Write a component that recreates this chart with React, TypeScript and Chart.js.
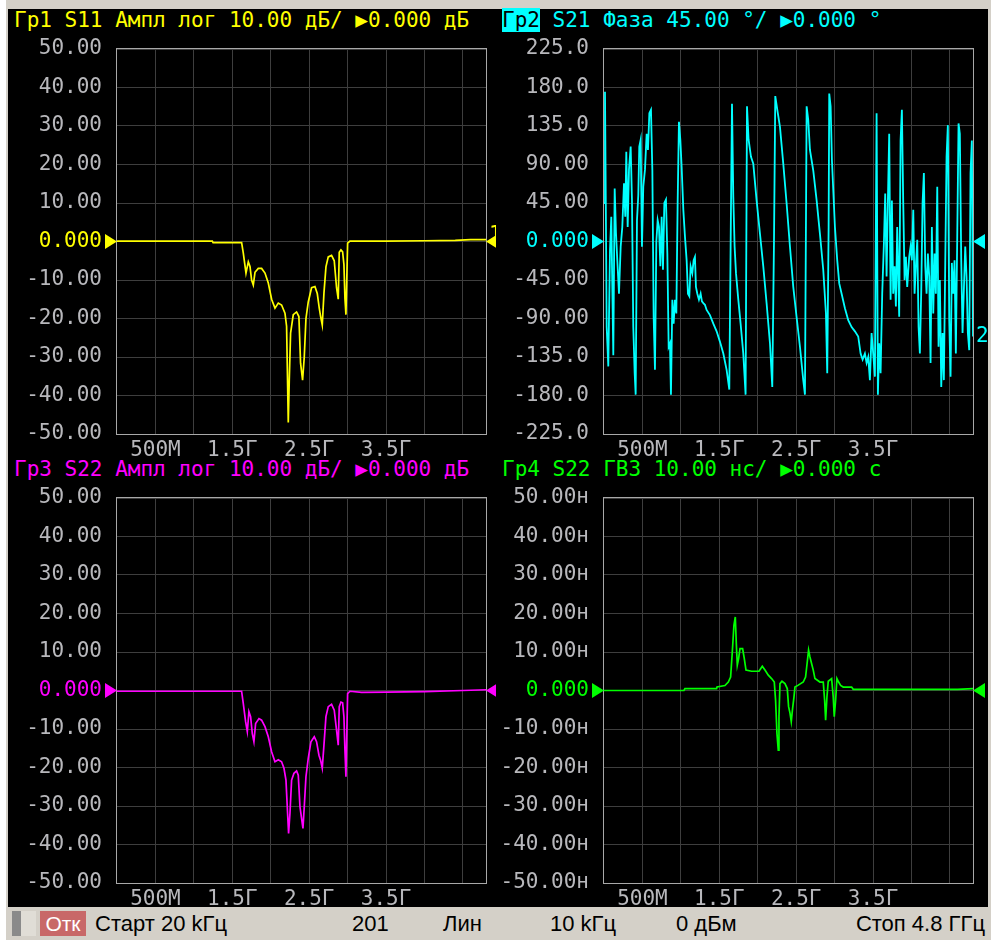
import React, { useEffect, useRef } from 'react';
import { Chart, registerables } from 'chart.js';
Chart.register(...registerables);

const MONO = '"DejaVu Sans Mono", monospace';
const GRID = '#3e3e3e';
const FRAME = '#a8a8a8';
const LABEL = '#b8b8bc';

// ---- frequency axis (GHz) ----
const sweepStart = 0.00002;
const sweepStop = 4.8;
const xGridFreqs = [0.5, 1.0, 1.5, 2.0, 2.5, 3.0, 3.5, 4.0, 4.5];
const xTickLabels = ['500M', '', '1.5Г', '', '2.5Г', '', '3.5Г', '', ''];

// ---- y tick values / labels ----
const dbTicks = [50, 40, 30, 20, 10, 0, -10, -20, -30, -40, -50];
const dbLabels = ['50.00', '40.00', '30.00', '20.00', '10.00', '0.000', '-10.00', '-20.00', '-30.00', '-40.00', '-50.00'];
const phaseTicks = [225, 180, 135, 90, 45, 0, -45, -90, -135, -180, -225];
const phaseLabels = ['225.0', '180.0', '135.0', '90.00', '45.00', '0.000', '-45.00', '-90.00', '-135.0', '-180.0', '-225.0'];
const gdTicks = [50, 40, 30, 20, 10, 0, -10, -20, -30, -40, -50];
const gdLabels = ['50.00н', '40.00н', '30.00н', '20.00н', '10.00н', '0.000', '-10.00н', '-20.00н', '-30.00н', '-40.00н', '-50.00н'];

// ---- Гр1 S11 (dB) ----
const s11Freq = [
  0.00002, 0.5, 1.0, 1.24, 1.25, 1.621, 1.643, 1.678, 1.708, 1.730,
  1.751, 1.773, 1.795, 1.838, 1.881, 1.925, 1.968, 2.011, 2.055, 2.098,
  2.141, 2.185, 2.206, 2.228, 2.241, 2.258, 2.293, 2.336, 2.366, 2.388,
  2.414, 2.436, 2.458, 2.488, 2.531, 2.575, 2.605, 2.631, 2.649, 2.670,
  2.692, 2.718, 2.748, 2.791, 2.826, 2.856, 2.878, 2.891, 2.913, 2.935,
  2.952, 2.965, 2.978, 3.000, 3.030, 3.5, 4.0, 4.4, 4.6, 4.8,
];
const s11Db = [
  0.1, 0.1, 0.1, 0.1, -0.3, -0.3, -3.0, -8.2, -5.3, -6.5,
  -10.0, -11.3, -8.0, -7.0, -7.0, -8.2, -10.8, -15.0, -17.3, -16.0,
  -16.5, -18.6, -22.0, -47.0, -36.0, -23.8, -19.0, -18.3, -19.5, -31.6,
  -36.0, -30.0, -20.0, -15.7, -12.0, -11.7, -13.5, -17.3, -19.5, -21.7,
  -13.4, -6.6, -4.0, -3.6, -5.0, -12.0, -15.0, -2.8, -2.2, -2.7,
  -6.0, -14.8, -19.0, -0.4, 0.1, 0.1, 0.2, 0.3, 0.5, 0.5,
];

// ---- Гр2 S21 phase (deg) ----
const s21Freq = [
  0.00002, 0.013, 0.035, 0.056, 0.078, 0.095, 0.108, 0.121, 0.139, 0.156,
  0.173, 0.195, 0.217, 0.238, 0.260, 0.277, 0.290, 0.308, 0.325, 0.347,
  0.364, 0.381, 0.399, 0.412, 0.429, 0.446, 0.459, 0.477, 0.494, 0.511,
  0.533, 0.555, 0.572, 0.590, 0.611, 0.629, 0.646, 0.663, 0.681, 0.698,
  0.715, 0.733, 0.750, 0.767, 0.785, 0.806, 0.824, 0.841, 0.858, 0.871,
  0.889, 0.906, 0.923, 0.941, 0.958, 0.975, 0.993, 1.010, 1.032, 1.053,
  1.075, 1.092, 1.110, 1.127, 1.149, 1.166, 1.183, 1.196, 1.214, 1.235,
  1.257, 1.274, 1.292, 1.313, 1.335, 1.378, 1.422, 1.465, 1.508, 1.552,
  1.595, 1.630, 1.647, 1.665, 1.682, 1.699, 1.717, 1.747, 1.777, 1.812,
  1.842, 1.860, 1.881, 1.912, 1.942, 1.985, 2.029, 2.072, 2.115, 2.159,
  2.189, 2.211, 2.228, 2.254, 2.289, 2.332, 2.375, 2.419, 2.462, 2.505,
  2.549, 2.592, 2.614, 2.636, 2.657, 2.679, 2.722, 2.766, 2.809, 2.852,
  2.887, 2.904, 2.922, 2.930, 2.948, 2.965, 3.004, 3.034, 3.060, 3.091,
  3.134, 3.177, 3.221, 3.264, 3.307, 3.338, 3.364, 3.394, 3.416, 3.437,
  3.459, 3.481, 3.502, 3.524, 3.546, 3.563, 3.580, 3.598, 3.619, 3.641,
  3.658, 3.676, 3.693, 3.710, 3.728, 3.745, 3.762, 3.780, 3.797, 3.814,
  3.840, 3.858, 3.875, 3.892, 3.910, 3.927, 3.944, 3.970, 3.988, 4.005,
  4.023, 4.040, 4.057, 4.075, 4.092, 4.109, 4.127, 4.144, 4.161, 4.179,
  4.196, 4.213, 4.231, 4.248, 4.265, 4.283, 4.300, 4.317, 4.335, 4.352,
  4.369, 4.387, 4.404, 4.421, 4.439, 4.456, 4.473, 4.491, 4.508, 4.525,
  4.543, 4.560, 4.577, 4.595, 4.612, 4.629, 4.647, 4.664, 4.681, 4.699,
  4.716, 4.733, 4.751, 4.768, 4.785, 4.800,
];
const s21Deg = [
  45, 175, -100, -146, -10, 29, -53, -133, 62, 10,
  -22, -61, -6, 17, 68, 29, 105, 17, 84, 111,
  48, -100, -154, -179, 25, 54, 111, 119, -6, 64,
  84, 126, 107, 150, 154, 83, -88, -150, 0, 25,
  17, -29, 29, -33, 45, 49, -14, -123, -119, -179,
  -68, -96, -68, -84, 45, 140, 119, 87, 37, 6,
  -22, -61, -64, -29, -37, -22, -18, -53, -61, -68,
  -61, -70, -72, -74, -80, -86, -96, -105, -117, -131,
  -150, -173, -6, 161, 52, -6, -37, -68, -96, -131,
  -179, 158, 119, 99, 91, 48, 9, -29, -72, -119,
  -170, -2, 170, 154, 134, 91, 45, -6, -53, -88,
  -123, -162, -179, 158, 142, 107, 83, 48, 9, -33,
  -84, -154, 17, 173, 158, 95, 17, -22, -49, -61,
  -78, -92, -100, -105, -111, -131, -138, -131, -142, -135,
  -162, -107, -131, -158, 150, -179, -119, -154, -61, -2,
  56, -41, 48, 126, -68, 48, -61, -29, -76, 17,
  -88, 118, 154, 48, -45, -18, -53, -18, -6, -22,
  37, -61, -29, 2, -100, -131, -57, 45, 80, -29,
  -61, -14, -41, -142, 17, -84, -14, -61, 64, -123,
  -45, -170, -107, -162, -25, 99, 136, -92, -158, -25,
  -61, -22, -131, 6, 138, 126, -22, -107, -57, -6,
  -41, -107, -127, 80, 118, -111,
];

// ---- Гр3 S22 (dB) ----
const s22Freq = [
  0.00002, 1.0, 1.621, 1.643, 1.673, 1.695, 1.716, 1.738, 1.760, 1.781,
  1.803, 1.847, 1.881, 1.925, 1.968, 2.011, 2.055, 2.098, 2.141, 2.172,
  2.198, 2.219, 2.232, 2.250, 2.271, 2.302, 2.336, 2.358, 2.380, 2.401,
  2.419, 2.436, 2.458, 2.488, 2.523, 2.566, 2.596, 2.627, 2.648, 2.670,
  2.692, 2.718, 2.748, 2.791, 2.826, 2.856, 2.878, 2.891, 2.913, 2.935,
  2.952, 2.965, 2.978, 3.000, 3.030, 3.182, 3.5, 4.0, 4.5, 4.8,
];
const s22Db = [
  -0.2, -0.2, -0.2, -3.4, -8.1, -10.7, -5.5, -6.8, -11.2, -13.3,
  -8.6, -7.3, -7.7, -9.4, -12.0, -15.9, -18.5, -18.0, -18.5, -20.2,
  -23.3, -31.9, -37.1, -31.9, -23.3, -21.5, -20.9, -22.0, -30.2, -33.2,
  -35.8, -30.2, -22.4, -17.6, -13.3, -12.0, -13.3, -16.8, -18.1, -20.2,
  -14.2, -6.8, -4.2, -3.6, -5.1, -10.3, -14.2, -4.2, -3.0, -3.2,
  -6.8, -15.5, -22.4, -0.8, -0.2, -0.5, -0.4, -0.3, 0.0, 0.2,
];

// ---- Гр4 S22 group delay (ns) ----
const gdFreq = [
  0.00002, 1.04, 1.053, 1.465, 1.47, 1.573, 1.617, 1.647, 1.669, 1.690,
  1.708, 1.721, 1.734, 1.751, 1.769, 1.803, 1.825, 1.847, 1.920, 2.016,
  2.059, 2.094, 2.137, 2.180, 2.215, 2.232, 2.250, 2.267, 2.276, 2.289,
  2.315, 2.354, 2.384, 2.401, 2.419, 2.436, 2.453, 2.471, 2.484, 2.527,
  2.592, 2.622, 2.644, 2.661, 2.679, 2.700, 2.722, 2.744, 2.809, 2.852,
  2.870, 2.883, 2.900, 2.917, 2.961, 2.982, 2.995, 3.013, 3.030, 3.052,
  3.078, 3.112, 3.221, 3.242, 4.0, 4.6, 4.8,
];
const gdNs = [
  0.0, 0.0, 0.5, 0.5, 0.9, 1.3, 2.2, 3.5, 10.0, 16.9,
  19.1, 12.2, 6.6, 8.3, 10.9, 10.9, 8.3, 5.3, 5.0, 5.0,
  6.3, 5.3, 4.0, 3.1, 2.2, -2.5, -11.2, -15.5, -6.8, 1.8,
  2.4, 1.8, 0.5, -4.2, -5.8, -8.1, -4.7, -1.7, 0.9, 1.4,
  2.2, 3.5, 7.4, 10.5, 8.7, 7.0, 5.3, 3.1, 2.2, 2.2,
  -2.5, -7.7, -1.7, 2.4, 3.1, -1.7, -6.8, -2.5, 3.1, 2.2,
  1.3, 0.9, 0.9, 0.3, 0.3, 0.3, 0.5,
];

type Spec = {
  freq: number[];
  vals: number[];
  color: string;
  ticks: number[];
  labels: string[];
  axisW: number;
  padRight: number;
  padTop: number;
  xH: number;
  endLabel: string;
  endLabelShift: number;
  lineW: number;
};

const decor = {
  id: 'decor',
  afterDraw(chart: any, _a: any, opts: any) {
    const { ctx, chartArea: a, scales } = chart;
    const y0 = scales.y.getPixelForValue(0);
    ctx.save();
    if (opts.endLabel) {
      const vals = chart.data.datasets[0].data;
      const last = vals[vals.length - 1].y;
      ctx.fillStyle = opts.color;
      ctx.font = `21px ${MONO}`;
      ctx.textAlign = 'left';
      ctx.textBaseline = 'middle';
      ctx.fillText(opts.endLabel, a.right + 3, scales.y.getPixelForValue(last) + opts.endLabelShift);
    }
    ctx.strokeStyle = FRAME;
    ctx.lineWidth = 1;
    ctx.strokeRect(Math.round(a.left) - 0.5, Math.round(a.top) - 0.5, Math.round(a.right - a.left) + 1, Math.round(a.bottom - a.top) + 1);
    ctx.fillStyle = opts.color;
    ctx.beginPath();
    ctx.moveTo(a.left, y0);
    ctx.lineTo(a.left - 12, y0 - 7.5);
    ctx.lineTo(a.left - 12, y0 + 7.5);
    ctx.closePath();
    ctx.fill();
    ctx.beginPath();
    ctx.moveTo(a.right, y0);
    ctx.lineTo(a.right + 12, y0 - 7.5);
    ctx.lineTo(a.right + 12, y0 + 7.5);
    ctx.closePath();
    ctx.fill();
    ctx.restore();
  },
};

function Panel(props: { spec: Spec; left: number; top: number; width: number; height: number }) {
  const ref = useRef<HTMLCanvasElement>(null);
  const { spec, left, top, width, height } = props;
  useEffect(() => {
    if (!ref.current) return;
    const data = spec.freq.map((f, i) => ({ x: f, y: spec.vals[i] }));
    const yMin = Math.min(...spec.ticks);
    const yMax = Math.max(...spec.ticks);
    const chart = new Chart(ref.current, {
      type: 'line',
      data: {
        datasets: [
          {
            data,
            borderColor: spec.color,
            borderWidth: spec.lineW,
            pointRadius: 0,
            tension: 0,
            fill: false,
          },
        ],
      },
      options: {
        responsive: false,
        animation: false,
        devicePixelRatio: 1,
        events: [],
        layout: { padding: { left: 0, right: spec.padRight, top: spec.padTop, bottom: 0 } },
        plugins: {
          legend: { display: false },
          tooltip: { enabled: false },
          decor: { color: spec.color, endLabel: spec.endLabel, endLabelShift: spec.endLabelShift },
        } as any,
        scales: {
          x: {
            type: 'linear',
            min: sweepStart,
            max: sweepStop,
            afterBuildTicks: (s: any) => {
              s.ticks = xGridFreqs.map((v) => ({ value: v }));
            },
            afterFit: (s: any) => {
              s.height = spec.xH;
              s.paddingLeft = 0;
              s.paddingRight = 0;
              s.paddingTop = 0;
              s.paddingBottom = 0;
            },
            ticks: {
              autoSkip: false,
              maxRotation: 0,
              minRotation: 0,
              padding: 4,
              color: LABEL,
              font: { family: MONO, size: 21 },
              callback: (v: any) => {
                const i = xGridFreqs.indexOf(Number(v));
                return i >= 0 ? xTickLabels[i] : '';
              },
            },
            grid: { color: GRID, lineWidth: 1, drawTicks: false },
            border: { display: false },
          },
          y: {
            type: 'linear',
            min: yMin,
            max: yMax,
            afterBuildTicks: (s: any) => {
              s.ticks = spec.ticks.map((v) => ({ value: v }));
            },
            afterFit: (s: any) => {
              s.width = spec.axisW;
              s.paddingTop = 0;
              s.paddingBottom = 0;
              s.paddingLeft = 0;
              s.paddingRight = 0;
            },
            ticks: {
              autoSkip: false,
              padding: 15,
              font: { family: MONO, size: 21 },
              color: (c: any) => (c.tick && c.tick.value === 0 ? spec.color : LABEL),
              callback: (v: any) => {
                const i = spec.ticks.indexOf(Number(v));
                return i >= 0 ? spec.labels[i] : '';
              },
            },
            grid: { color: GRID, lineWidth: 1, drawTicks: false },
            border: { display: false },
          },
        },
      },
      plugins: [decor],
    } as any);
    return () => chart.destroy();
  }, [spec]);
  return (
    <canvas
      ref={ref}
      width={width}
      height={height}
      style={{ position: 'absolute', left, top, width, height, display: 'block' }}
    />
  );
}

const YELLOW = '#ffff00';
const CYAN = '#00ffff';
const MAGENTA = '#ff00ff';
const GREEN = '#00ff00';

const spec1: Spec = { freq: s11Freq, vals: s11Db, color: YELLOW, ticks: dbTicks, labels: dbLabels, axisW: 109, padRight: 10, padTop: 14, xH: 26, endLabel: '1', endLabelShift: -4, lineW: 1.7 };
const spec2: Spec = { freq: s21Freq, vals: s21Deg, color: CYAN, ticks: phaseTicks, labels: phaseLabels, axisW: 108, padRight: 15, padTop: 14, xH: 26, endLabel: '2', endLabelShift: 0, lineW: 1.8 };
const spec3: Spec = { freq: s22Freq, vals: s22Db, color: MAGENTA, ticks: dbTicks, labels: dbLabels, axisW: 109, padRight: 10, padTop: 14, xH: 24, endLabel: '', endLabelShift: 0, lineW: 1.7 };
const spec4: Spec = { freq: gdFreq, vals: gdNs, color: GREEN, ticks: gdTicks, labels: gdLabels, axisW: 108, padRight: 15, padTop: 14, xH: 24, endLabel: '', endLabelShift: 0, lineW: 1.7 };

const headStyle: React.CSSProperties = {
  position: 'absolute',
  fontFamily: MONO,
  fontSize: 21,
  lineHeight: '21px',
  whiteSpace: 'pre',
};

const STATUS_FONT = '"Liberation Sans", Arial, sans-serif';
const statusText: React.CSSProperties = {
  position: 'absolute',
  top: 911,
  fontFamily: STATUS_FONT,
  fontSize: 22,
  lineHeight: '26px',
  color: '#000',
  whiteSpace: 'pre',
};

export default function App() {
  return (
    <div style={{ position: 'fixed', left: 0, top: 0, width: 991, height: 940, background: '#d4d0c8', overflow: 'hidden' }}>
      <div style={{ position: 'absolute', left: 0, top: 0, width: 6, height: 940, background: '#ffffff' }} />
      <div style={{ position: 'absolute', left: 8, top: 9, width: 980, height: 898, background: '#000' }} />

      <div style={{ ...headStyle, left: 14, top: 10, color: YELLOW }}>Гр1 S11 Ампл лог 10.00 дБ/ ▶0.000 дБ</div>
      <div style={{ ...headStyle, left: 502, top: 10, color: CYAN }}>
        <span style={{ background: CYAN, color: '#000' }}>Гр2</span> S21 Фаза 45.00 °/ ▶0.000 °
      </div>
      <div style={{ ...headStyle, left: 14, top: 459, color: MAGENTA }}>Гр3 S22 Ампл лог 10.00 дБ/ ▶0.000 дБ</div>
      <div style={{ ...headStyle, left: 502, top: 459, color: GREEN }}>Гр4 S22 ГВЗ 10.00 нс/ ▶0.000 с</div>

      <Panel spec={spec1} left={8} top={35} width={488} height={425} />
      <Panel spec={spec2} left={496} top={35} width={492} height={425} />
      <Panel spec={spec3} left={8} top={484} width={488} height={423} />
      <Panel spec={spec4} left={496} top={484} width={492} height={423} />

      <div style={{ position: 'absolute', left: 12, top: 911, width: 24, height: 25, background: '#e0ddd6', borderLeft: '9px solid #8a8a8a', boxSizing: 'border-box' }} />
      <div style={{ position: 'absolute', left: 40, top: 911, width: 46, height: 25, background: '#c86868', color: '#ffffff', fontFamily: STATUS_FONT, fontSize: 21, lineHeight: '25px', textAlign: 'center' }}>Отк</div>
      <div style={{ ...statusText, left: 95 }}>Старт 20 kГц</div>
      <div style={{ ...statusText, left: 352 }}>201</div>
      <div style={{ ...statusText, left: 443 }}>Лин</div>
      <div style={{ ...statusText, left: 550 }}>10 kГц</div>
      <div style={{ ...statusText, left: 676 }}>0 дБм</div>
      <div style={{ ...statusText, right: 6 }}>Стоп 4.8 ГГц</div>
    </div>
  );
}
